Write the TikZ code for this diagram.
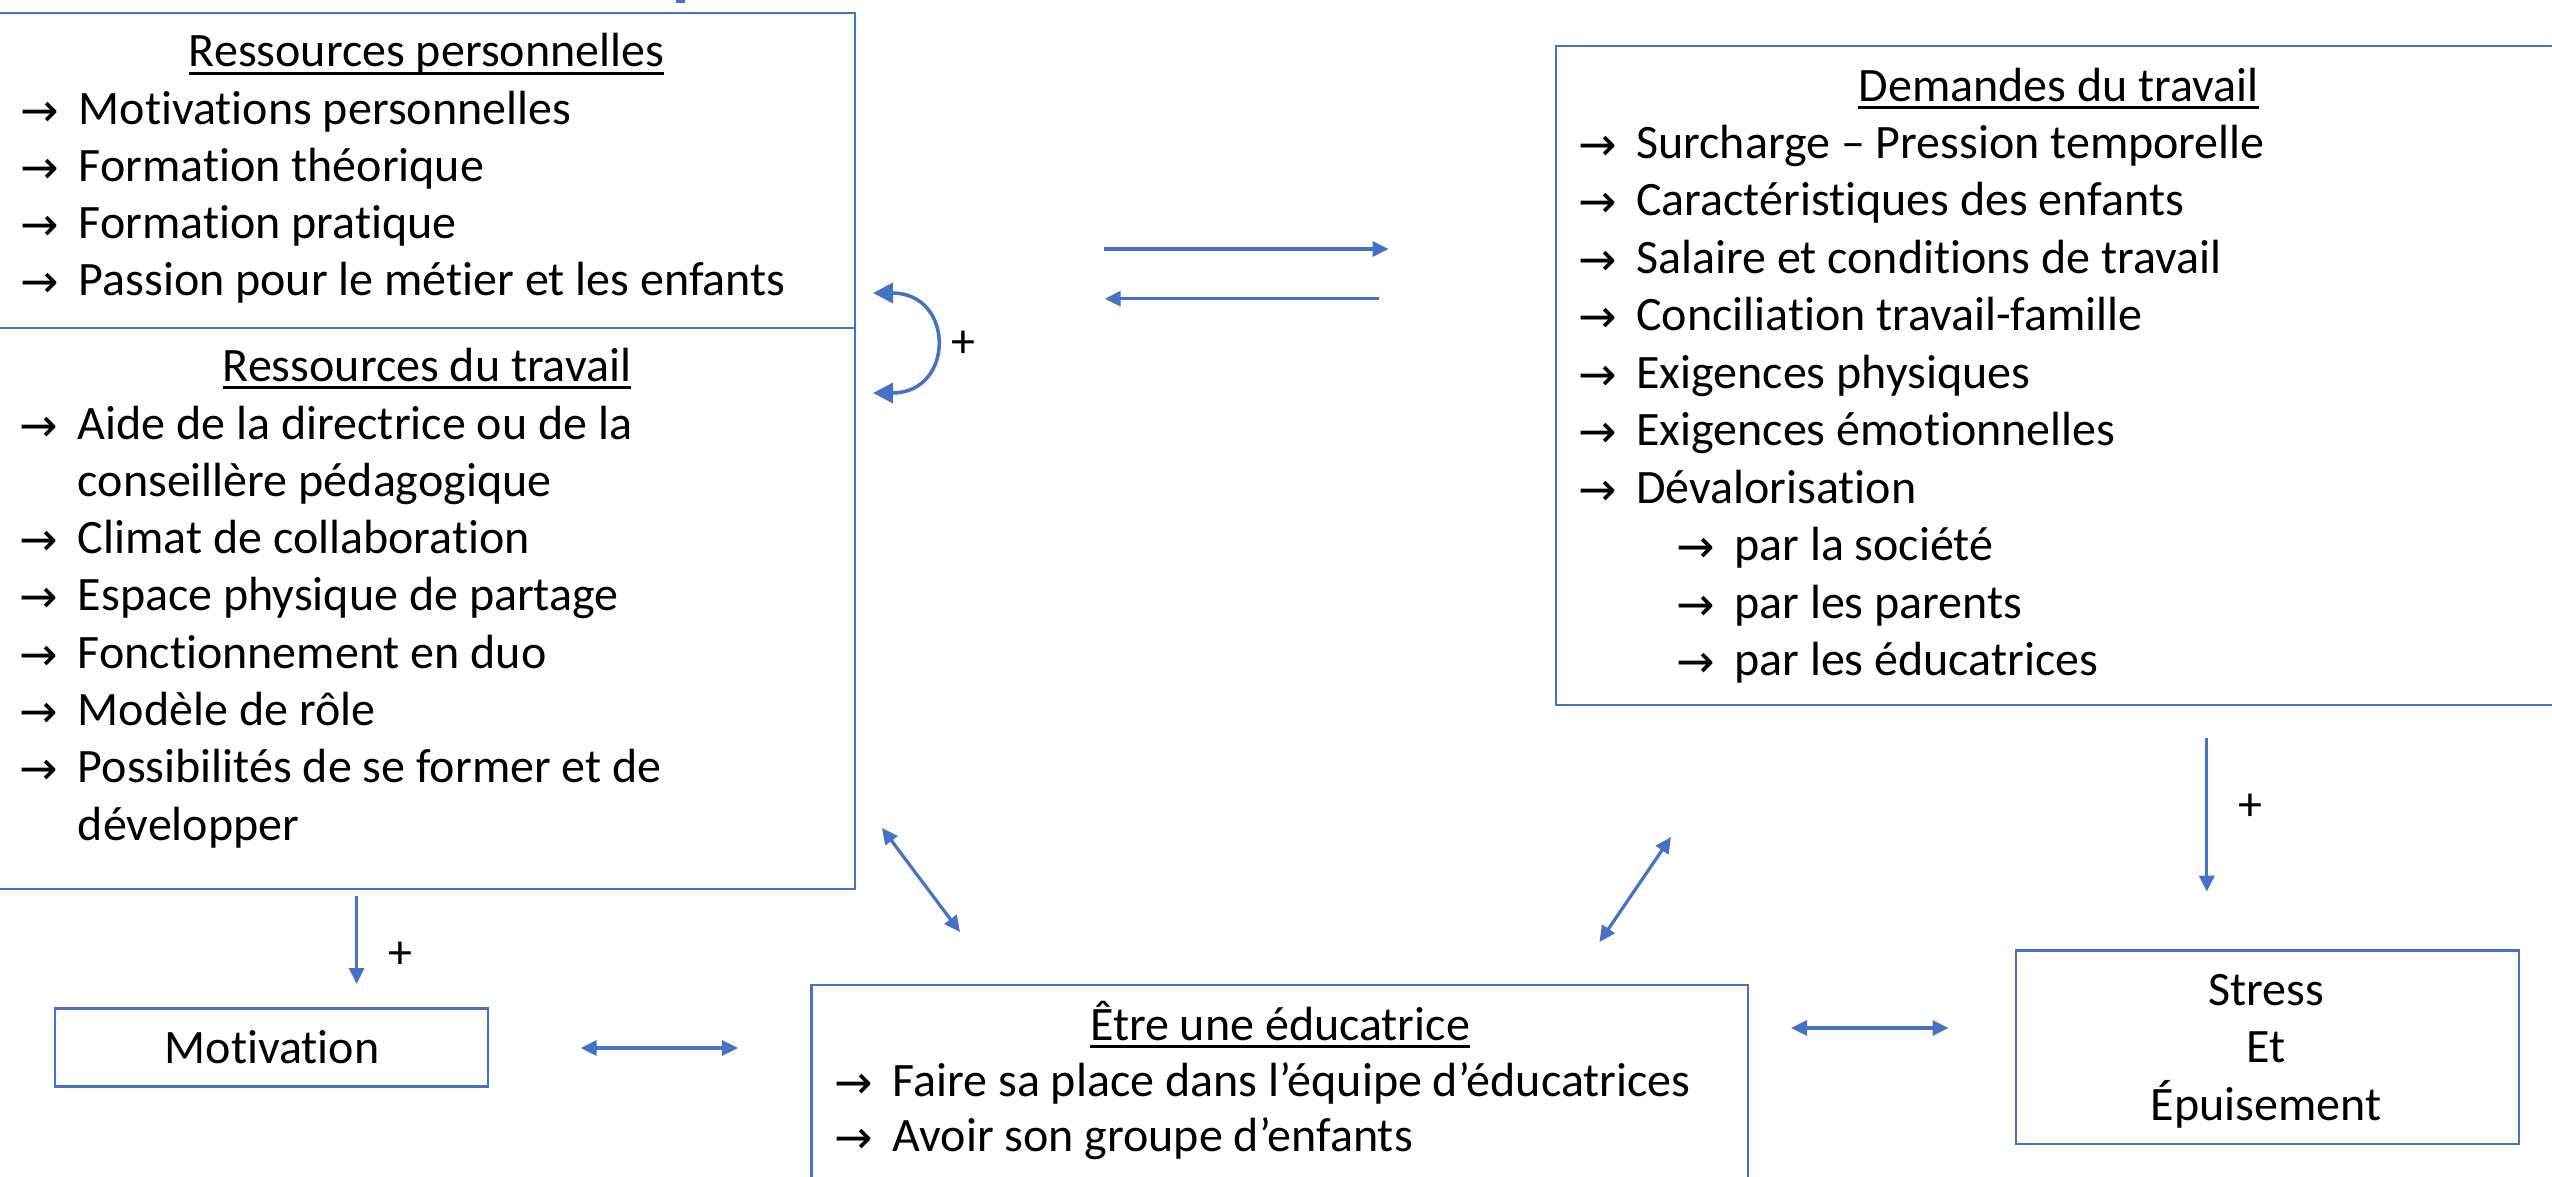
\documentclass[tikz,border=0pt]{standalone}
\usepackage{fontspec}
\setmainfont{Carlito}[RawFeature={-liga}]
\newfontfamily\arrfont{DejaVu Sans}
\usetikzlibrary{arrows.meta}
\definecolor{obl}{HTML}{4472C4}
\newcommand\ar{\makebox[0pt][l]{\hspace{-58pt}\raisebox{-2pt}{\arrfont\fontsize{46}{46}\selectfont →}}}
\tikzset{
  box/.style={draw=obl, line width=2.5pt, inner sep=0pt, outer sep=0pt},
  conn/.style={draw=obl, line width=3.2pt, -{Triangle[length=16pt,width=15pt]}},
  biconn/.style={draw=obl, line width=3.2pt, {Triangle[length=16pt,width=15pt]}-{Triangle[length=16pt,width=15pt]}},
  ttl/.style={anchor=base, inner sep=0pt},
  itm/.style={anchor=base west, inner sep=0pt},
  ctr/.style={anchor=base, inner sep=0pt},
  plus/.style={anchor=base, inner sep=0pt},
  uline/.style={draw=black, line width=2.6pt},
}
\begin{document}
\begin{tikzpicture}[x=1pt, y=-1pt, font=\fontsize{48}{57}\selectfont]
\useasboundingbox (0,0) rectangle (2552,1176);
% fragment at top
\fill[obl] (676,0) rectangle (685,3);
% boxes
\node[box, minimum width=857pt, minimum height=315pt] (rp) at (426.5,170.5) {};
\node[box, minimum width=857pt, minimum height=561pt] (rt) at (426.5,608.5) {};
\node[box, minimum width=1005pt, minimum height=659pt] (dem) at (2058.5,375.5) {};
\node[box, minimum width=433pt, minimum height=78pt] (mot) at (271.5,1047.7) {};
\node[box, minimum width=936.5pt, minimum height=197pt] (etre) at (1279.75,1083.5) {};
\node[box, minimum width=503pt, minimum height=193.3pt] (stress) at (2267.5,1047.35) {};
% titles
\node[ttl] (rpT) at (426.5,66.7) {Ressources personnelles};
\draw[uline] ([yshift=-6.6pt]rpT.base west) -- ([yshift=-6.6pt]rpT.base east);
\node[ttl] (rtT) at (427,381) {Ressources du travail};
\draw[uline] ([yshift=-6.6pt]rtT.base west) -- ([yshift=-6.6pt]rtT.base east);
\node[ttl] (demT) at (2058.6,101) {Demandes du travail};
\draw[uline] ([yshift=-6.6pt]demT.base west) -- ([yshift=-6.6pt]demT.base east);
\node[ttl] (etreT) at (1280,1040) {Être une éducatrice};
\draw[uline] ([yshift=-6.6pt]etreT.base west) -- ([yshift=-6.6pt]etreT.base east);
% items
\foreach \t [count=\i] in {\ar Motivations personnelles, \ar Formation théorique, \ar Formation pratique, \ar Passion pour le métier et les enfants}
  {\node[itm] (rp\i) at (78.6,{124+57.3*(\i-1)}) {\t};}
\foreach \t [count=\i] in {\ar Aide de la directrice ou de la, conseillère pédagogique, \ar Climat de collaboration, \ar Espace physique de partage, \ar Fonctionnement en duo, \ar Modèle de rôle, \ar Possibilités de se former et de, développer}
  {\node[itm] (rt\i) at (77.7,{439+57.3*(\i-1)}) {\t};}
\foreach \t [count=\i] in {\ar Surcharge – Pression temporelle, \ar Caractéristiques des enfants, \ar Salaire et conditions de travail, \ar Conciliation travail-famille, \ar Exigences physiques, \ar Exigences émotionnelles, \ar Dévalorisation}
  {\node[itm] (dem\i) at (1636,{158.4+57.5*(\i-1)}) {\t};}
\foreach \t [count=\i] in {\ar par la société, \ar par les parents, \ar par les éducatrices}
  {\node[itm] (sub\i) at (1734,{158.4+57.5*(\i+6)}) {\t};}
\node[itm] (etre1) at (892.5,1096.7) {\ar Faire sa place dans l’équipe d’éducatrices};
\node[itm] (etre2) at (892.5,1151.7) {\ar Avoir son groupe d’enfants};
\node[ctr] (motT) at (272,1063.3) {Motivation};
\node[ctr] (st1) at (2266,1005) {Stress};
\node[ctr] (st2) at (2266,1062.5) {Et};
\node[ctr] (st3) at (2266,1120) {Épuisement};
% connector end points
\coordinate (a1s) at (356.6,896);   \coordinate (a1e) at (356.6,984);
\coordinate (a2s) at (580.6,1048);  \coordinate (a2e) at (738,1048);
\coordinate (a3s) at (1791,1028);   \coordinate (a3e) at (1948.5,1028);
\coordinate (a4s) at (2206.8,738);  \coordinate (a4e) at (2206.8,891.7);
\coordinate (a5s) at (882,828);     \coordinate (a5e) at (960,932);
\coordinate (a6s) at (1671,837);    \coordinate (a6e) at (1599.5,942);
\coordinate (a7s) at (1104,249);    \coordinate (a7e) at (1388.6,249);
\coordinate (a8s) at (1378.7,298.7); \coordinate (a8e) at (1104.7,298.7);
\coordinate (c1) at (873,293);      \coordinate (c2) at (873,393);
% connectors
\draw[conn] (a1s) -- (a1e);
\draw[biconn] (a2s) -- (a2e);
\draw[biconn] (a3s) -- (a3e);
\draw[conn] (a4s) -- (a4e);
\draw[biconn] (a5s) -- (a5e);
\draw[biconn] (a6s) -- (a6e);
\draw[conn] (a7s) -- (a7e);
\draw[conn] (a8s) -- (a8e);
\draw[draw=obl, line width=3.5pt, {Triangle[length=20pt,width=20pt]}-{Triangle[length=20pt,width=20pt]}] (c1) .. controls (955,293) and (955,393) .. (c2);
% plus labels
\node[plus] (p1) at (400.5,968) {+};
\node[plus] (p2) at (2250,820) {+};
\node[plus] (p3) at (963.5,357) {+};
\end{tikzpicture}
\end{document}
